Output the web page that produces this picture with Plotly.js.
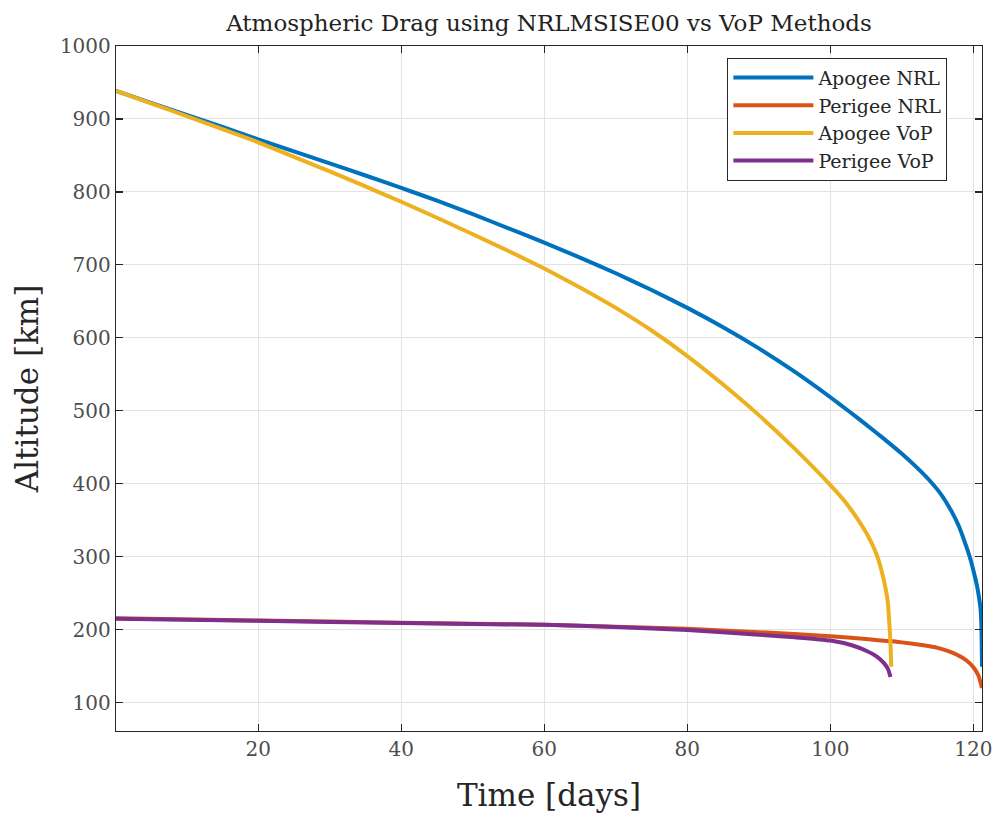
<!DOCTYPE html>
<html>
<head>
<meta charset="utf-8">
<script src="https://cdn.plot.ly/plotly-3.0.1.min.js"></script>
<style>html,body{margin:0;padding:0;background:#fff}#chart{width:996px;height:821px}</style>
</head>
<body>
<div id="chart"></div>
<script>
// Time [days] and altitude [km]
const tApoNRL = [0, 5, 10, 15, 20, 25, 30, 35, 40, 45, 50, 55, 60, 65, 70, 75, 80, 85, 90, 95, 100, 102.5, 105, 107.5, 110, 112, 114, 115.5, 117, 118, 119, 119.6, 120, 120.5, 120.8, 121.0, 121.1, 121.15, 121.2];
const apoNRL  = [939, 922, 905.5, 889, 872, 855.5, 839, 822.5, 805.5, 788, 769.5, 750, 730.5, 710, 688.5, 665.5, 641, 614.5, 585.5, 553.5, 518.5, 500, 481, 461.5, 441, 423, 403, 385, 361, 341, 314, 296, 281, 260, 243, 228, 210, 190, 149];

const tPerNRL = [0, 20, 40, 60, 70, 80, 90, 100, 105, 108.4, 110, 113, 115, 116.5, 117.7, 119, 120, 120.7, 121.2];
const perNRL  = [215.5, 212.5, 209.5, 206.5, 204, 201, 196.5, 191, 187, 184, 182.5, 178.5, 175, 170.5, 165.5, 158, 148.5, 137, 120];

const tApoVoP = [0, 5, 10, 15, 20, 25, 30, 35, 40, 45, 50, 55, 60, 65, 70, 75, 80, 85, 90, 95, 100, 102, 103.5, 105, 106.5, 107.3, 108, 108.3, 108.45, 108.5];
const apoVoP  = [939, 921.5, 904, 886, 868, 848, 828, 807.5, 786.5, 764.5, 742, 719, 695, 669, 641, 610, 575, 536, 494, 448, 398, 376, 356, 333, 302, 275, 240, 200, 170, 149];

const tPerVoP = [0, 20, 40, 60, 70, 80, 90, 95, 100, 103, 105, 106.5, 107.5, 108.1, 108.4];
const perVoP  = [215, 212, 209, 206.5, 203.5, 199.5, 193, 189.5, 185, 178.5, 171, 163, 154, 145, 135];

const seriesNames = ['Apogee NRL', 'Perigee NRL', 'Apogee VoP', 'Perigee VoP'];
const seriesColors = ['#0072BD', '#D95319', '#EDB120', '#7E2F8E'];

const xTicks = [20, 40, 60, 80, 100, 120];
const yTicks = [100, 200, 300, 400, 500, 600, 700, 800, 900, 1000];

const xs = [tApoNRL, tPerNRL, tApoVoP, tPerVoP];
const ys = [apoNRL, perNRL, apoVoP, perVoP];

const FONT = 'DejaVu Serif, Liberation Serif, serif';

const traces = seriesNames.map((n, i) => ({
  x: xs[i], y: ys[i], name: n, type: 'scatter', mode: 'lines',
  line: {color: seriesColors[i], width: 4, shape: 'spline', smoothing: 0.5}
}));

const axisCommon = {
  showline: true, linecolor: '#262626', linewidth: 1.2, mirror: 'ticks',
  ticks: 'inside', ticklen: 7, tickwidth: 1.2, tickcolor: '#262626',
  showgrid: true, gridcolor: '#e3e3e3', gridwidth: 1, zeroline: false,
  tickfont: {family: FONT, size: 20, color: '#4d4d4d'}
};

const layout = {
  width: 996, height: 821,
  paper_bgcolor: '#fff', plot_bgcolor: '#fff',
  margin: {l: 116, r: 14, t: 46, b: 90},
  title: {text: 'Atmospheric Drag using NRLMSISE00 vs VoP Methods',
          font: {family: FONT, size: 23, color: '#222'}, xref: 'paper', x: 0.5, xanchor: 'center', y: 0.982, yanchor: 'top'},
  xaxis: Object.assign({}, axisCommon, {
    range: [0.12, 121.2], tickvals: xTicks, ticktext: xTicks.map(String),
    title: {text: 'Time [days]', font: {family: FONT, size: 31, color: '#262626'}, standoff: 24}
  }),
  yaxis: Object.assign({}, axisCommon, {
    range: [61, 1000], tickvals: yTicks, ticktext: yTicks.map(String),
    title: {text: 'Altitude [km]', font: {family: FONT, size: 31, color: '#262626'}, standoff: 12}
  }),
  showlegend: true,
  legend: {x: 0.706, y: 0.983, xanchor: 'left', yanchor: 'top',
           bgcolor: '#fff', bordercolor: '#262626', borderwidth: 1,
           font: {family: FONT, size: 19, color: '#262626'},
           tracegroupgap: 0, itemwidth: 80}
};

Plotly.newPlot('chart', traces, layout, {displayModeBar: false, staticPlot: true});
</script>
</body>
</html>
